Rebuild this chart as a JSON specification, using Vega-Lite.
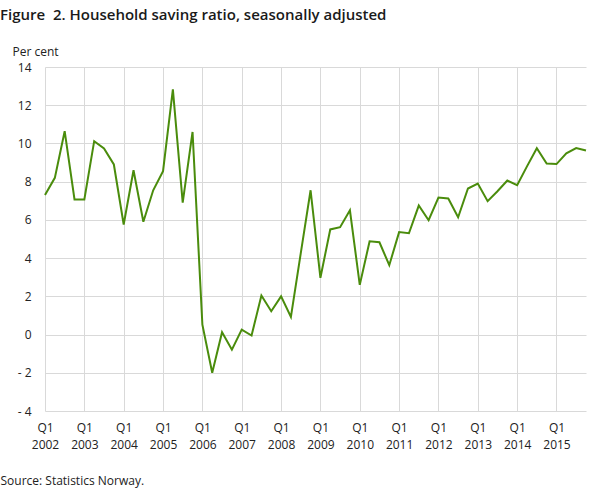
{
  "$schema": "https://vega.github.io/schema/vega-lite/v6.json",
  "width": 541,
  "height": 344,
  "autosize": {"type": "none"},
  "padding": {"left": 45, "top": 67, "right": 22, "bottom": 78},
  "background": "white",
  "title": {
    "text": "Figure\u00a0 2. Household saving ratio, seasonally adjusted",
    "anchor": "start",
    "frame": "group",
    "dx": -45,
    "offset": 22,
    "font": "Open Sans",
    "fontSize": 15,
    "fontWeight": 600,
    "color": "#1a1a1a"
  },
  "config": {
    "view": {"stroke": null},
    "font": "Open Sans"
  },
  "data": {
    "values": [
      {"q": "2002 Q1", "v": 7.3}, {"q": "2002 Q2", "v": 8.2}, {"q": "2002 Q3", "v": 10.64}, {"q": "2002 Q4", "v": 7.07},
      {"q": "2003 Q1", "v": 7.07}, {"q": "2003 Q2", "v": 10.12}, {"q": "2003 Q3", "v": 9.74}, {"q": "2003 Q4", "v": 8.9},
      {"q": "2004 Q1", "v": 5.76}, {"q": "2004 Q2", "v": 8.6}, {"q": "2004 Q3", "v": 5.9}, {"q": "2004 Q4", "v": 7.55},
      {"q": "2005 Q1", "v": 8.55}, {"q": "2005 Q2", "v": 12.83}, {"q": "2005 Q3", "v": 6.9}, {"q": "2005 Q4", "v": 10.6},
      {"q": "2006 Q1", "v": 0.52}, {"q": "2006 Q2", "v": -2.0}, {"q": "2006 Q3", "v": 0.12}, {"q": "2006 Q4", "v": -0.79},
      {"q": "2007 Q1", "v": 0.26}, {"q": "2007 Q2", "v": -0.05}, {"q": "2007 Q3", "v": 2.04}, {"q": "2007 Q4", "v": 1.22},
      {"q": "2008 Q1", "v": 2.0}, {"q": "2008 Q2", "v": 0.92}, {"q": "2008 Q3", "v": 4.25}, {"q": "2008 Q4", "v": 7.55},
      {"q": "2009 Q1", "v": 2.97}, {"q": "2009 Q2", "v": 5.5}, {"q": "2009 Q3", "v": 5.62}, {"q": "2009 Q4", "v": 6.5},
      {"q": "2010 Q1", "v": 2.6}, {"q": "2010 Q2", "v": 4.88}, {"q": "2010 Q3", "v": 4.83}, {"q": "2010 Q4", "v": 3.63},
      {"q": "2011 Q1", "v": 5.36}, {"q": "2011 Q2", "v": 5.3}, {"q": "2011 Q3", "v": 6.75}, {"q": "2011 Q4", "v": 5.98},
      {"q": "2012 Q1", "v": 7.17}, {"q": "2012 Q2", "v": 7.12}, {"q": "2012 Q3", "v": 6.14}, {"q": "2012 Q4", "v": 7.64},
      {"q": "2013 Q1", "v": 7.9}, {"q": "2013 Q2", "v": 6.98}, {"q": "2013 Q3", "v": 7.5}, {"q": "2013 Q4", "v": 8.06},
      {"q": "2014 Q1", "v": 7.82}, {"q": "2014 Q2", "v": 8.8}, {"q": "2014 Q3", "v": 9.75}, {"q": "2014 Q4", "v": 8.95},
      {"q": "2015 Q1", "v": 8.92}, {"q": "2015 Q2", "v": 9.48}, {"q": "2015 Q3", "v": 9.76}, {"q": "2015 Q4", "v": 9.63}
    ]
  },
  "mark": {"type": "line", "color": "#4a8c0c", "strokeWidth": 2},
  "encoding": {
    "x": {
      "field": "q",
      "type": "ordinal",
      "sort": null,
      "scale": {"type": "point", "padding": 0},
      "axis": {
        "values": ["2002 Q1", "2003 Q1", "2004 Q1", "2005 Q1", "2006 Q1", "2007 Q1", "2008 Q1", "2009 Q1", "2010 Q1", "2011 Q1", "2012 Q1", "2013 Q1", "2014 Q1", "2015 Q1"],
        "labelExpr": "[substring(datum.label, 5), substring(datum.label, 0, 4)]",
        "labelAngle": 0,
        "labelFont": "Open Sans",
        "labelFontSize": 12,
        "labelColor": "#222222",
        "labelLineHeight": 17,
        "labelPadding": 11,
        "ticks": false,
        "domain": false,
        "grid": true,
        "gridColor": "#d9d9d9",
        "gridWidth": 1,
        "title": "Source: Statistics Norway.",
        "titleFont": "Open Sans",
        "titleFontSize": 12,
        "titleFontWeight": "normal",
        "titleColor": "#222222",
        "titleAlign": "left",
        "titleBaseline": "alphabetic",
        "titleX": -45,
        "titleY": 73
      }
    },
    "y": {
      "field": "v",
      "type": "quantitative",
      "scale": {"domain": [-4, 14], "nice": false, "zero": false},
      "axis": {
        "values": [-4, -2, 0, 2, 4, 6, 8, 10, 12, 14],
        "labelExpr": "datum.value < 0 ? '- ' + abs(datum.value) : datum.label",
        "labelFont": "Open Sans",
        "labelFontSize": 12,
        "labelColor": "#222222",
        "labelPadding": 14,
        "ticks": false,
        "domain": false,
        "grid": true,
        "gridColor": "#d9d9d9",
        "gridWidth": 1,
        "title": "Per cent",
        "titleFont": "Open Sans",
        "titleFontSize": 12,
        "titleFontWeight": "normal",
        "titleColor": "#222222",
        "titleAngle": 0,
        "titleAlign": "left",
        "titleBaseline": "alphabetic",
        "titleX": -33,
        "titleY": -12
      }
    }
  }
}
